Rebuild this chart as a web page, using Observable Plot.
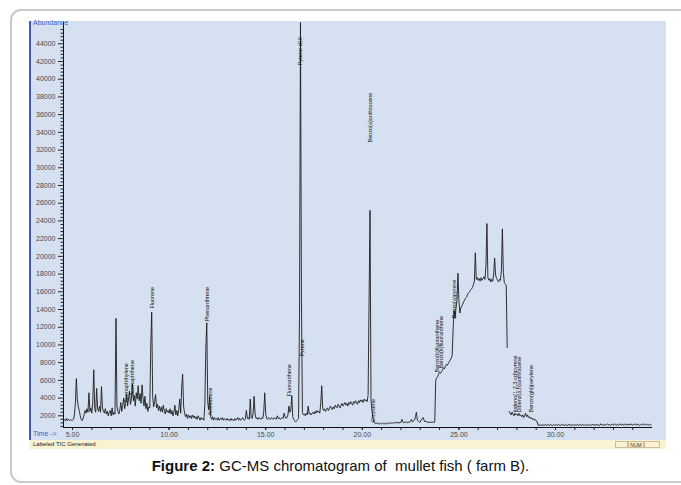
<!DOCTYPE html>
<html>
<head>
<meta charset="utf-8">
<script src="https://cdn.jsdelivr.net/npm/d3@7"></script>
<script src="https://cdn.jsdelivr.net/npm/@observablehq/plot@0.6"></script>
<style>
  html, body { margin: 0; padding: 0; background: #ffffff; }
  #wrap { position: relative; width: 681px; height: 485px; overflow: hidden; font-family: "Liberation Sans", Arial, sans-serif; }
  #frame { position: absolute; left: 10px; top: 9px; width: 700px; height: 474px; border: 2px solid #c9c9c9; border-radius: 11px; box-sizing: border-box; }
  #screen { position: absolute; left: 29px; top: 21px; width: 637px; height: 419px; background: #d5e1f1; border-left: 2px solid #3a5cb4; box-sizing: border-box; }
  #screen::after { content: ""; position: absolute; left: 0; top: 0; width: 1px; height: 100%; background: #e9e0b8; }
  #status { position: absolute; left: 29px; top: 440px; width: 637px; height: 9px; background: #fbf2d2; font-size: 6px; line-height: 9px; color: #222; box-sizing: border-box; padding-left: 4px; }
  .sbox { position: absolute; top: 1px; height: 7px; border: 1px solid #c9bf9c; box-sizing: border-box; font-size: 5px; line-height: 6px; text-align: center; color: #333; }
  #abund { position: absolute; left: 33px; top: 19px; font-size: 7px; color: #3f5fbf; }
  #timel { position: absolute; left: 33px; top: 430px; font-size: 7px; color: #3f5fbf; }
  #chart { position: absolute; left: 0; top: 0; }
  #caption { position: absolute; left: 0; top: 457px; width: 681px; text-align: center; font-size: 15px; color: #111; }
</style>
</head>
<body>
<div id="wrap">
  <div id="frame"></div>
  <div id="screen"></div>
  <div id="status">Labeled TIC Generated
    <div class="sbox" style="left:586px;width:13px;"></div>
    <div class="sbox" style="left:599px;width:16px;">NUM</div>
    <div class="sbox" style="left:615px;width:16px;"></div>
  </div>
  <div id="chart"></div>
  <div id="abund">Abundance</div>
  <div id="timel">Time -&gt;</div>
  <div id="caption"><b>Figure 2:</b> GC-MS chromatogram of &nbsp;mullet fish ( farm B).</div>
</div>
<script>
// ---- scan settings (minutes) ----
const scanStep = 0.05;

// ---- total ion current ----
const ticStartA = 4.55;
const ticA = [
  1500,1600,1400,1700,1500,1600,1450,1550,1500,
  1500,1600,2100,3500,6200,3800,3000,2600,2000,1600,1450,1700,2100,2600,2300,2800,2400,4600,2500,2900,
  2300,3600,7200,2800,2400,5100,2800,2500,3100,2400,5300,2900,2500,2300,2800,2200,2500,2000,2400,2600,
  2000,2900,2100,2400,2200,13000,3100,2500,2200,2700,3500,2500,3200,4000,2800,3400,4400,3100,3900,4800,
  3300,4000,5600,3700,4300,3100,4600,3900,5400,3700,4500,3400,5500,4000,3100,4200,2800,3400,2500,3000,
  2900,9900,13700,4200,3000,3600,4400,2900,3300,2600,3100,2500,3000,2400,3200,2600,2200,2800,2400,2600,
  2300,2800,2200,2600,2000,2400,3200,2100,2600,2000,2700,3900,2300,5200,6700,3100,2300,1900,2200,1700,
  2100,1800,2000,1700,2100,1800,2000,1700,1900,1600,2000,1800,1500,1800,1600,1700,1500,3300,9600,12500
];
const ticStartB = 12.00;
const ticB = [
  3500,2700,4200,1900,1600,1900,1500,1800,1600,1700,1500,1800,1500,1700,1600,1800,1500,1700,1600,1500,
  1700,1500,1600,1450,1700,1500,1600,1450,1700,1500,1600,1800,1500,1700,1500,1600,1800,1600,1500,1700,
  2600,1700,1800,1600,3900,1800,1700,2300,4200,2200,1700,1800,1600,1800,1700,1600,1800,1700,2500,4600,
  2200,1700,1600,1800,1700,1600,1800,1700,1600,1800,1700,1600,2000,1700,1800,1600,1700,1800,1700,2300,
  1900,1700,1800,2100,3100,2400,2700,4300,1900,1600,1450,1300,1450,1600,1700,13700,46400,15000,2400,2100,
  2200,2000,2300,2100,3100,2200,2300,2100,2300,2400,2200,2500,2300,2600,2400,2500,2300,3500,5400,2800,
  2600,2800,2500,2700,2900,2600,2800,3100,2900,2700,3000,2800,3200,3000,2900,3300,3100,2900,3200,3400,
  3100,3300,3500,3200,3400,3100,3500,3300,3600,3400,3200,3600,3400,3700,3500,3300,3700,3500,3800,3600,
  3800,3500,3900,3700,3800,3600,4300,15000,25200,3800,2600,1800,1300,1150,1100,1200,1100,1150,1050,1150
];
const ticStartC = 21.00;
const ticC = [
  1100,1200,1100,1150,1050,1200,1100,1150,1250,1100,1200,1150,1250,1150,1200,1300,1200,1250,1150,1300,
  1250,1600,1300,1200,1300,1250,1350,1200,1300,1250,1400,1600,1300,1400,1500,1900,2400,1500,1400,1300,
  1300,1500,1700,1800,1500,1300,1400,1300,1250,1300,1250,1300,1250,1300,1250,1300,6000,6300,6400,6700,
  6900,6800,7000,7200,7400,7300,7600,7800,7700,7900,8100,8300,8500,8800,11800,13900,13000,14200,15000,18100,
  15000,13600,14200,14400,14600,14900,15100,15300,15400,15700,15900,16000,16200,16300,16500,16800,17200,20400,17400,17600,
  17300,17500,17200,17600,17300,17500,17700,17400,19000,23700,17600,17300,17500,17100,17400,17200,18000,19800,17900,17500,
  17300,17100,17400,17300,18500,23100,18200,17000,16900,16700,9700,null,2500,2300,2100,2400,2200,2000,2300,2100,
  2200,2000,2300,2000,2100,1900,2100,1800,2000,2300,1900,2100,1800,1900,1700,1800,1600,1700,1500,1600,
  1450,1300,950,900,1000,900,950,1000,900,950,1050,900,950,1000,900,1050,950,900,1000,950,
  950,1000,900,1050,950,900,1000,950,1050,900,950,1000,900,950,1050,950,900,1000,950,1000,
  900,1000,950,1050,900,950,1000,900,1050,950,1000,900,950,1050,900,1000,950,900,1050,950,
  1000,900,1050,950,1000,900,950,1100,950,1000,900,1050,950,1000,1100,950,1000,900,1050,1000,
  950,1100,1000,950,1050,900,1000,1100,950,1050,1000,900,1050,1100,950,1000,1050,950,1100,1000,
  950,1050,1000,1100,950,1000,1050,900,1000,1050,950,1100,1000,950,1050,1000,950,1050,1000,950
];

// ---- peak labels ----
const peakNames = ["Acenaphthylene","Acenaphthene","Fluorene","Phenanthrene","Anthracene","Fluoranthene",
  "Pyrene-d10","Pyrene","Benzo(a)anthracene","Chrysene","Benzo(b)fluoranthene","Benzo(k)fluoranthene",
  "Benzo(a)pyrene","Indeno(1,2,3-cd)pyrene","Dibenz(a,h)anthracene","Benzo(ghi)perylene"];
const peakTimes = [7.80, 8.11, 9.11, 11.99, 12.14, 16.23, 16.80, 16.90, 20.42, 20.55, 23.89, 24.10, 24.77, 27.93, 28.11, 28.76];
const peakLabelAbund = [3500, 4290, 14110, 12640, 2030, 4180, 41550, 8690, 32850, 1240, 6890, 7340, 12980, 2370, 2370, 2370];

// ---- axes ----
const timeDomain = [4.534, 35.02];
const abundDomain = [680, 46400];
const xTickValues = [5, 10, 15, 20, 25, 30];
const xTickLabels = ["5.00", "10.00", "15.00", "20.00", "25.00", "30.00"];
const yTickValues = [2000,4000,6000,8000,10000,12000,14000,16000,18000,20000,22000,24000,26000,28000,30000,32000,34000,36000,38000,40000,42000,44000];
const yTickLabels = ["2000","4000","6000","8000","10000","12000","14000","16000","18000","20000","22000","24000","26000","28000","30000","32000","34000","36000","38000","40000","42000","44000"];

const scans = (start, values) => values.map((a, i) => ({ t: +(start + i * scanStep).toFixed(2), a }));
const trace = [...scans(ticStartA, ticA), ...scans(ticStartB, ticB), ...scans(ticStartC, ticC)];
const labels = peakNames.map((name, i) => ({ name, t: peakTimes[i], a: peakLabelAbund[i] }));

const xMinor = d3.range(5, 35, 1);
const yMinor = d3.range(800, 46400, 400).filter(v => v % 2000 !== 0);

const chart = Plot.plot({
  width: 681,
  height: 450,
  marginLeft: 63,
  marginRight: 29,
  marginTop: 22,
  marginBottom: 23,
  style: { background: "transparent", fontFamily: "Liberation Sans, Arial, sans-serif", fontSize: "7px", color: "#333" },
  x: { domain: timeDomain, label: null },
  y: { domain: abundDomain, label: null },
  marks: [
    Plot.axisY({ ticks: yMinor, tickSize: 2.5, tickFormat: () => "", stroke: "#222" }),
    Plot.axisY({ ticks: yTickValues, tickSize: 5, tickPadding: 3, tickFormat: d => yTickLabels[yTickValues.indexOf(d)], stroke: "#222", fill: "#4a4a4a", fontSize: 7 }),
    Plot.axisX({ ticks: xMinor, tickSize: 3, tickFormat: () => "", stroke: "#222" }),
    Plot.axisX({ ticks: xTickValues, tickSize: 3, tickPadding: 2, tickFormat: d => xTickLabels[xTickValues.indexOf(d)], stroke: "#222", fill: "#4a4a4a", fontSize: 7 }),
    Plot.ruleX([timeDomain[0]], { stroke: "#111", strokeWidth: 1 }),
    Plot.ruleY([abundDomain[0]], { stroke: "#111", strokeWidth: 1 }),
    Plot.line(trace, { x: "t", y: "a", stroke: "#1c1c1c", strokeWidth: 0.9, clip: true }),
    Plot.text(labels, { x: "t", y: "a", text: "name", rotate: -90, textAnchor: "start", fontSize: 5.5, fill: "#111" })
  ]
});
document.getElementById("chart").appendChild(chart);
</script>
</body>
</html>
